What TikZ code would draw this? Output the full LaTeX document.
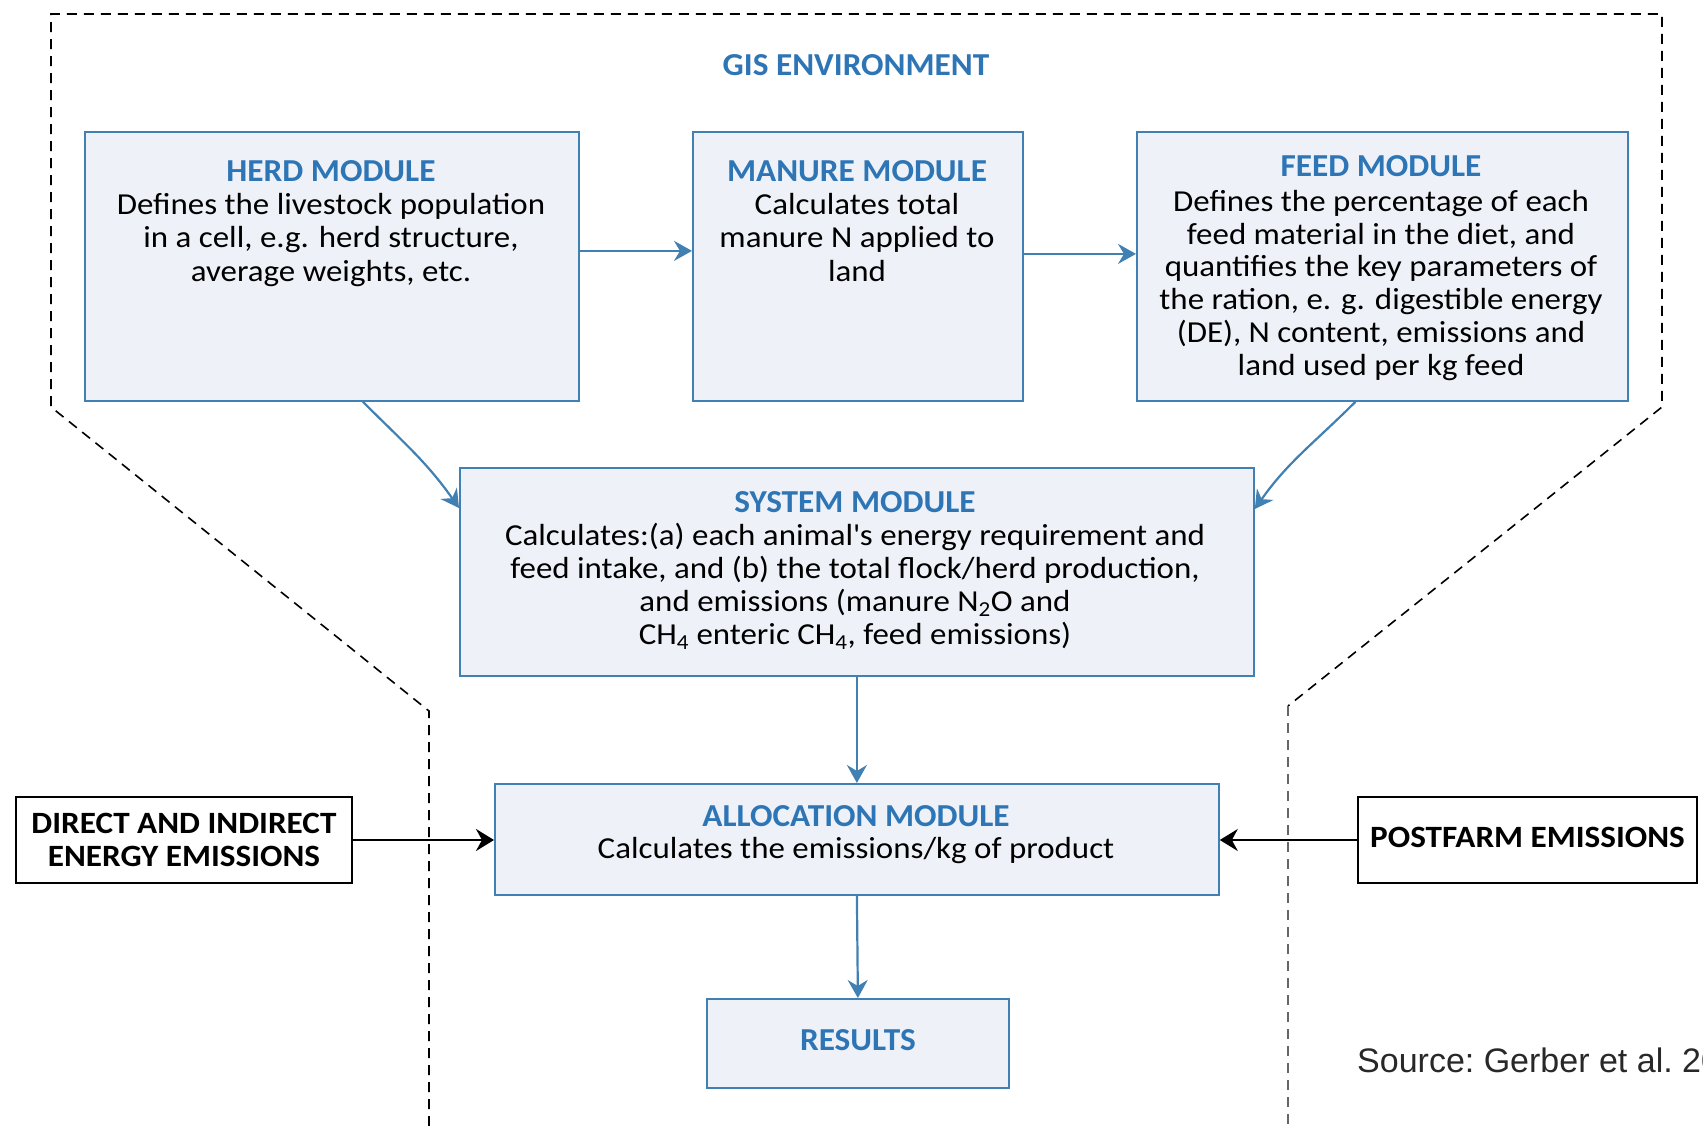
\documentclass[tikz,border=0pt]{standalone}
\usepackage{fontspec}
\setmainfont{Carlito}
\newfontfamily\bodyfont[FakeStretch=1.08]{Carlito}
\newfontfamily\ttlfont[FakeStretch=1.04]{Carlito}
\newfontfamily\blkfont[FakeStretch=1.07]{Carlito}
\newfontfamily\srcfont{Liberation Sans}
\usetikzlibrary{arrows.meta}
\definecolor{boxblue}{RGB}{65,128,178}
\definecolor{titleblue}{RGB}{46,117,182}
\definecolor{boxfill}{RGB}{238,242,248}
\definecolor{srcgray}{RGB}{40,40,40}
\begin{document}
\begin{tikzpicture}[x=1pt,y=-1pt,
  mbox/.style={draw=boxblue, fill=boxfill, line width=1.8pt, inner sep=0pt, anchor=north west},
  kbox/.style={draw=black, fill=white, line width=2pt, inner sep=0pt, anchor=north west,
    align=center, font=\blkfont\bfseries\fontsize{31}{33}\selectfont},
  ttl/.style={text=titleblue, inner sep=0pt, font=\ttlfont\bfseries\fontsize{32}{34}\selectfont},
  bodytxt/.style={inner sep=0pt, align=center, anchor=north, font=\bodyfont\fontsize{30.5}{33.5}\selectfont},
  barrow/.style={draw=boxblue, line width=2.2pt, -{Stealth[length=18pt,width=20pt,inset=6pt]}},
  karrow/.style={draw=black, line width=2.4pt, -{Stealth[length=18pt,width=22pt,inset=6pt]}},
  dashline/.style={line width=1.6pt, dash pattern=on 10pt off 7pt}
]
\useasboundingbox (0,0) rectangle (1703,1126);
\clip (0,0) rectangle (1703,1126);

% GIS environment outline
\draw[dashline] (429,1126) -- (429,711) -- (51,407) -- (51,14) -- (1662,14) -- (1662,407) -- (1288,706);
\draw[dashline, black!60] (1288,706) -- (1288,1126);
\node[ttl, anchor=base] (gis) at (856,76) {GIS ENVIRONMENT};

% boxes
\node[mbox, minimum width=494pt, minimum height=269pt] (herd) at (84,131) {};
\node[mbox, minimum width=330pt, minimum height=269pt] (manure) at (692,131) {};
\node[mbox, minimum width=491pt, minimum height=269pt] (feed) at (1136,131) {};
\node[mbox, minimum width=794pt, minimum height=208pt] (sys) at (459,467) {};
\node[mbox, minimum width=724pt, minimum height=111pt] (alloc) at (494,783) {};
\node[mbox, minimum width=302pt, minimum height=89pt, text=titleblue,
      font=\ttlfont\bfseries\fontsize{32}{34}\selectfont] (results) at (706,998) {RESULTS\rule[-7pt]{0pt}{7pt}};
\node[kbox, minimum width=336pt, minimum height=86pt] (direct) at (15,796) {DIRECT AND INDIRECT\\ENERGY EMISSIONS};
\node[kbox, minimum width=339pt, minimum height=86pt] (postfarm) at (1357,796) {POSTFARM EMISSIONS\rule[-6pt]{0pt}{6pt}};

% texts
\node[ttl, anchor=base] (herdT) at (331,182) {HERD MODULE};
\node[bodytxt] (herdB) at (331,193) {Defines the livestock population\\in a cell, e.g. herd structure,\\average weights, etc.};
\node[ttl, anchor=base] (manT) at (857,182) {MANURE MODULE};
\node[bodytxt] (manB) at (857,193) {Calculates total\\manure N applied to\\land};
\node[ttl, anchor=base] (feedT) at (1381,177) {FEED MODULE};
\node[bodytxt, font=\bodyfont\fontsize{30.5}{32.8}\selectfont] (feedB) at (1381,190) {Defines the percentage of each\\feed material in the diet, and\\quantifies the key parameters of\\the ration, e. g. digestible energy\\(DE), N content, emissions and\\land used per kg feed};
\node[ttl, anchor=base] (sysT) at (855,512) {SYSTEM MODULE};
\node[bodytxt, font=\bodyfont\fontsize{30.5}{33}\selectfont] (sysB) at (855,523) {Calculates:(a) each animal\textquotesingle s energy requirement and\\feed intake, and (b) the total flock/herd production,\\and emissions (manure N\textsubscript{2}O and\\CH\textsubscript{4} enteric CH\textsubscript{4}, feed emissions)};
\node[ttl, anchor=base] (allocT) at (856,826) {ALLOCATION MODULE};
\node[bodytxt] (allocB) at (856,837) {Calculates the emissions/kg of product};

\node[anchor=base west, inner sep=0pt, text=srcgray, font=\srcfont\frenchspacing\fontsize{34}{38}\selectfont] (src) at (1357,1072) {Source: Gerber et al. 2013};

% connectors
\draw[barrow] ([yshift=15.5pt]herd.east) -- ([yshift=15.5pt]manure.west);
\draw[barrow] ([yshift=12.5pt]manure.east) -- ([yshift=12.5pt]feed.west);
\draw[barrow] ([xshift=31pt]herd.south) to[out=-45, in=125] ([yshift=-41pt]sys.north west);
\draw[barrow] ([xshift=-27pt]feed.south) to[out=-135, in=55] ([yshift=-42pt]sys.north east);
\draw[barrow] (sys.south) -- (alloc.north);
\draw[barrow] (alloc.south) -- (results.north);
\draw[karrow] (direct.east) -- (alloc.west |- direct.east);
\draw[karrow] (postfarm.west) -- (alloc.east |- postfarm.west);
\end{tikzpicture}
\end{document}
